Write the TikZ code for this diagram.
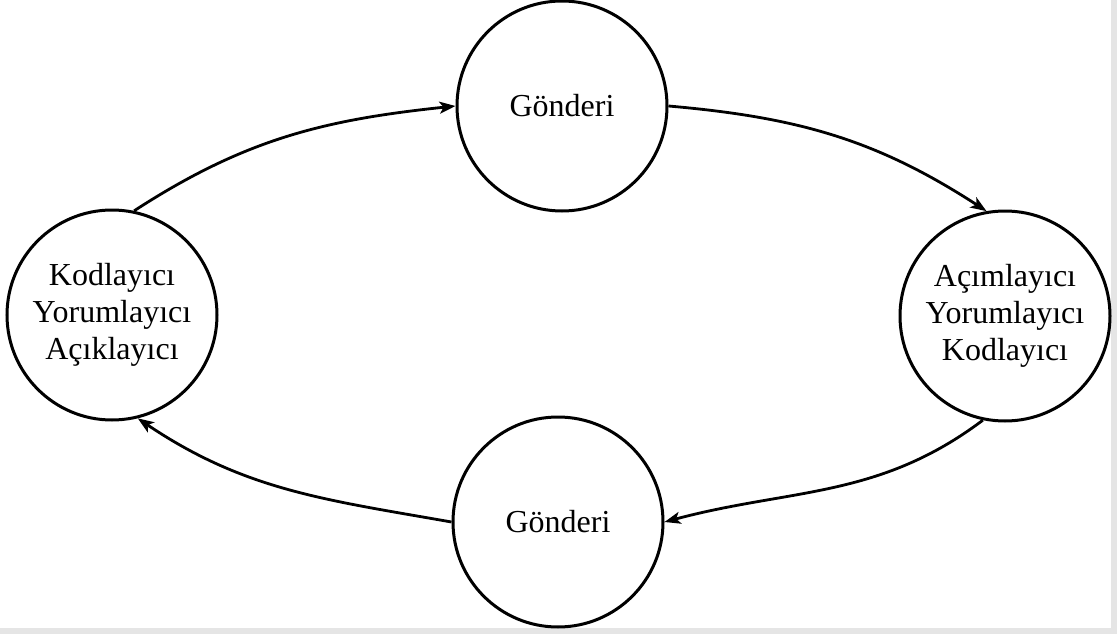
\documentclass[tikz,border=0pt]{standalone}
\usepackage{fontspec}
\setmainfont{Liberation Serif}
\usetikzlibrary{arrows.meta}
\tikzset{
  station/.style={circle, draw=black, line width=3pt, minimum size=210pt,
    inner sep=0pt, align=center, font=\fontsize{32}{37}\selectfont},
  flow/.style={line width=2.8pt, -{Stealth[length=16pt,width=12pt,inset=4pt]}}
}
\begin{document}
\begin{tikzpicture}[x=1pt,y=-1pt]
  \useasboundingbox (0,0) rectangle (1117,634);
  % light grey margins along the lower and right edges
  \fill[black!10] (0,628) rectangle (1117,634);
  \fill[black!10] (1111,0) rectangle (1117,634);

  \node[station] (top)    at (562,106) {Gönderi};
  \node[station] (left)   at (112,315) {Kodlayıcı\\Yorumlayıcı\\Açıklayıcı};
  \node[station] (right)  at (1005,316) {Açımlayıcı\\Yorumlayıcı\\Kodlayıcı};
  \node[station] (bottom) at (558,522) {Gönderi};

  \draw[flow] (left.78)   to[out=33,  in=186] (top.west);
  \draw[flow] (top.east)  to[out=-5,  in=147] (right.100);
  \draw[flow] (right.258) to[out=217, in=15]  (bottom.east);
  \draw[flow] (bottom.west) to[out=170, in=326] (left.284);
\end{tikzpicture}
\end{document}
